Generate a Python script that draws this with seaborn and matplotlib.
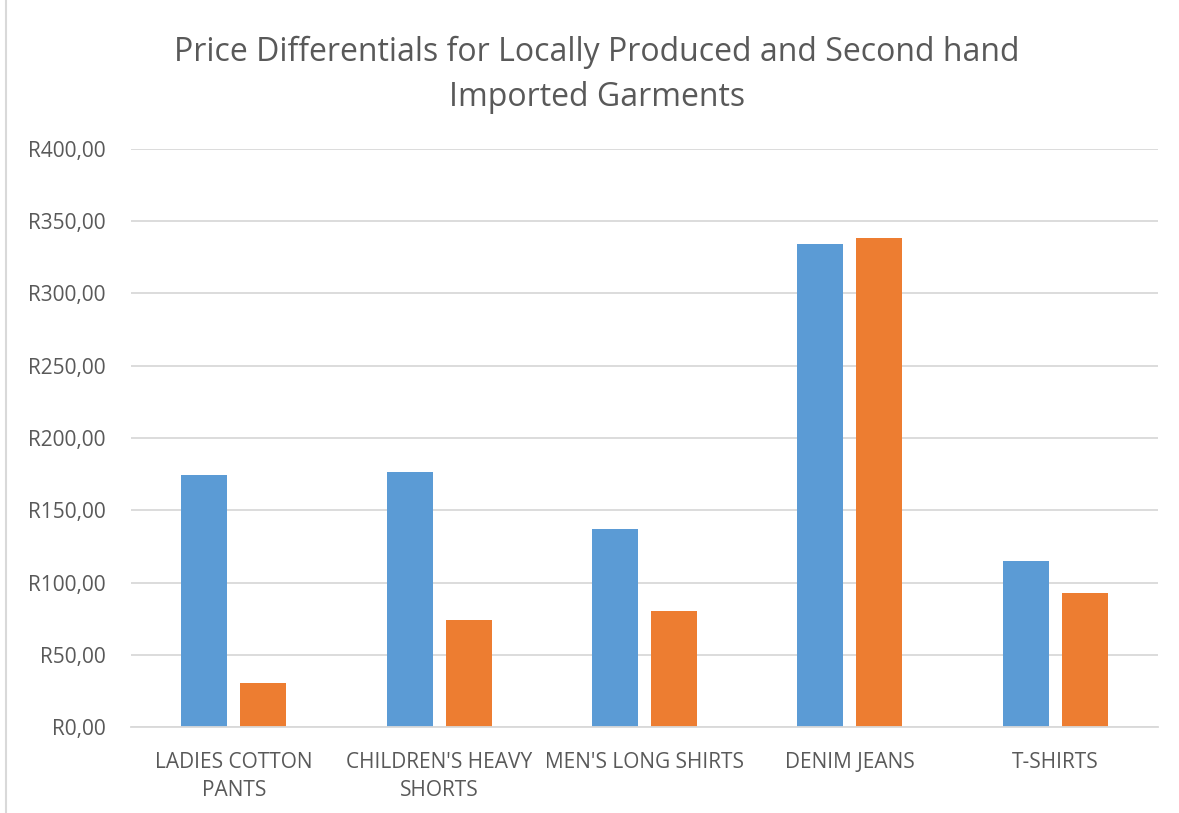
import matplotlib
matplotlib.use("Agg")
import matplotlib.pyplot as plt
import seaborn as sns
import pandas as pd
from matplotlib.ticker import FuncFormatter
from matplotlib.lines import Line2D

categories = ["LADIES COTTON\nPANTS", "CHILDREN'S HEAVY\nSHORTS", "MEN'S LONG SHIRTS", "DENIM JEANS", "T-SHIRTS"]
local_prices = [174.2, 176.5, 137.0, 334.0, 114.9]
imported_prices = [30.4, 74.0, 80.3, 338.4, 92.5]
series_names = ["Locally Produced", "Second hand Imported"]
title = "Price Differentials for Locally Produced and Second hand\nImported Garments"

sns.set_theme(style="white")
plt.rcParams['font.family'] = ['Open Sans', 'DejaVu Sans']

df = pd.DataFrame({
    "category": categories * 2,
    "price": local_prices + imported_prices,
    "series": [series_names[0]] * len(categories) + [series_names[1]] * len(categories),
})

fig = plt.figure(figsize=(11.79, 8.13), dpi=100)
ax = fig.add_axes([131/1179, 1 - 727/813, (1158-131)/1179, (727-149)/813])

sns.barplot(data=df, x="category", y="price", hue="series", order=categories,
            palette=["#5B9BD5", "#ED7D31"], width=0.575, gap=0.22,
            saturation=1, ax=ax, legend=False, errorbar=None, linewidth=0)

ax.set_xlim(-0.5, len(categories) - 0.5)
ax.set_ylim(0, 400)
ax.set_yticks(range(0, 401, 50))
ax.yaxis.set_major_formatter(FuncFormatter(lambda v, p: f"R{v:.2f}".replace(".", ",")))
ax.grid(axis="y", color="#D9D9D9", linewidth=1.3)
ax.set_axisbelow(True)
for s in ["top", "right", "left"]:
    ax.spines[s].set_visible(False)
ax.spines["bottom"].set_color("#D9D9D9")
ax.spines["bottom"].set_linewidth(1.3)
ax.tick_params(axis="both", length=0, labelsize=15, labelcolor="#595959")
ax.tick_params(axis="y", pad=18)
ax.tick_params(axis="x", pad=18)
for lbl in ax.get_xticklabels():
    lbl.set_linespacing(1.45)
ax.set_xlabel("")
ax.set_ylabel("")

fig.text(597/1179, 1 - 75/813, title, ha="center", va="center", fontsize=23,
         color="#595959", linespacing=1.45)

fig.add_artist(Line2D([6/1179, 6/1179], [0, 1], color="#D9D9D9", linewidth=1.5, transform=fig.transFigure))

fig.savefig("out.png", dpi=100)
